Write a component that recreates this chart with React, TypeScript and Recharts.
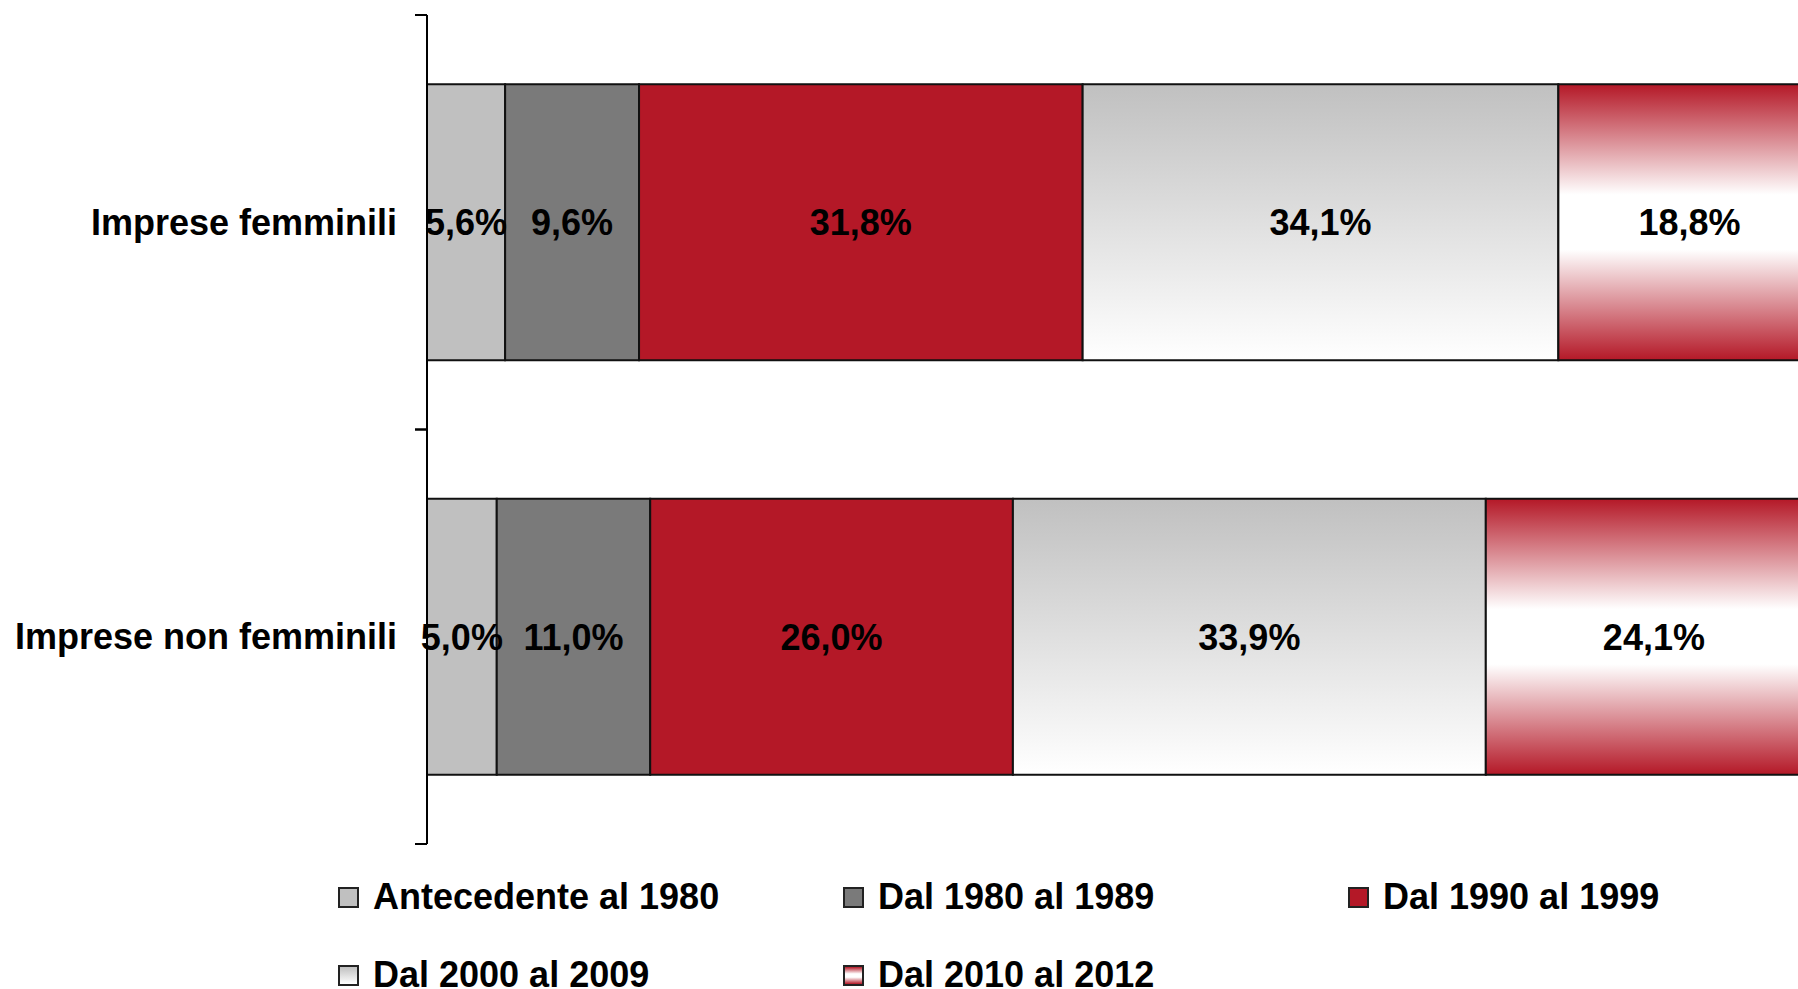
import React from 'react';
import { BarChart, Bar, XAxis, YAxis, Legend, LabelList } from 'recharts';

// values in percent
const categories = ['Imprese femminili', 'Imprese non femminili'];
const antecedente1980 = [5.6, 5.0];
const dal1980al1989 = [9.6, 11.0];
const dal1990al1999 = [31.8, 26.0];
const dal2000al2009 = [34.1, 33.9];
const dal2010al2012 = [18.8, 24.1];

const seriesNames = [
  'Antecedente al 1980',
  'Dal 1980 al 1989',
  'Dal 1990 al 1999',
  'Dal 2000 al 2009',
  'Dal 2010 al 2012',
];

const RED = '#B41827';
const FONT = '"Liberation Sans", Arial, Helvetica, sans-serif';

const series = [
  { key: 's0', values: antecedente1980, fill: '#C0C0C0', swatch: '#C0C0C0' },
  { key: 's1', values: dal1980al1989, fill: '#7A7A7A', swatch: '#7A7A7A' },
  { key: 's2', values: dal1990al1999, fill: RED, swatch: RED },
  { key: 's3', values: dal2000al2009, fill: 'url(#grad2000)', swatch: 'linear-gradient(#C0C0C0, #FFFFFF)' },
  {
    key: 's4',
    values: dal2010al2012,
    fill: 'url(#grad2010)',
    swatch: `linear-gradient(${RED}, #FFFFFF 40%, #FFFFFF 60%, ${RED})`,
  },
];

const data = categories.map((name, i) => {
  const row: Record<string, string | number> = { name };
  series.forEach((s) => {
    row[s.key] = s.values[i];
  });
  return row;
});

const fmt = (v: any) => `${Number(v).toFixed(1).replace('.', ',')}%`;

const CategoryTick = (props: any) => {
  const { x, y, payload } = props;
  const half = payload && payload.offset ? payload.offset : 207;
  return (
    <g>
      <line x1={x - 12} x2={x} y1={y - half} y2={y - half} stroke="#000" strokeWidth={2} />
      <line x1={x - 12} x2={x} y1={y + half} y2={y + half} stroke="#000" strokeWidth={2} />
      <text
        x={x - 30}
        y={y}
        textAnchor="end"
        dominantBaseline="central"
        fill="#000"
        fontSize={36}
        fontWeight="bold"
        fontFamily={FONT}
      >
        {payload.value}
      </text>
    </g>
  );
};

const LegendContent = () => (
  <div
    style={{
      height: 120,
      paddingLeft: 338,
      display: 'grid',
      gridTemplateColumns: '505px 505px 505px',
      gridAutoRows: '78px',
      fontFamily: FONT,
      fontWeight: 'bold',
      fontSize: 36,
      color: '#000',
    }}
  >
    {series.map((s, i) => (
      <div key={s.key} style={{ display: 'flex', alignItems: 'center', whiteSpace: 'nowrap' }}>
        <span
          style={{
            display: 'inline-block',
            width: 17,
            height: 17,
            border: '2px solid #222',
            background: s.swatch,
            marginRight: 14,
          }}
        />
        {seriesNames[i]}
      </div>
    ))}
  </div>
);

export default function App() {
  return (
    <div
      style={{
        position: 'fixed',
        left: 0,
        top: 0,
        width: 1798,
        height: 989,
        overflow: 'hidden',
        background: '#fff',
      }}
    >
      <BarChart
        width={1822}
        height={989}
        data={data}
        layout="vertical"
        margin={{ top: 15, right: 0, bottom: 25, left: 0 }}
        barCategoryGap="16.7%"
      >
        <defs>
          <linearGradient id="grad2000" x1="0" y1="0" x2="0" y2="1">
            <stop offset="0%" stopColor="#C0C0C0" />
            <stop offset="100%" stopColor="#FFFFFF" />
          </linearGradient>
          <linearGradient id="grad2010" x1="0" y1="0" x2="0" y2="1">
            <stop offset="0%" stopColor={RED} />
            <stop offset="40%" stopColor="#FFFFFF" />
            <stop offset="60%" stopColor="#FFFFFF" />
            <stop offset="100%" stopColor={RED} />
          </linearGradient>
        </defs>
        <XAxis type="number" domain={[0, 100]} hide />
        <YAxis
          type="category"
          dataKey="name"
          width={427}
          axisLine={{ stroke: '#000', strokeWidth: 2 }}
          tickLine={false}
          tickSize={0}
          tickMargin={0}
          tick={<CategoryTick />}
          interval={0}
        />
        <Legend
          verticalAlign="bottom"
          content={<LegendContent />}
          wrapperStyle={{ left: 0, top: 858, width: 1798 }}
        />
        {series.map((s, i) => (
          <Bar
            key={s.key}
            dataKey={s.key}
            name={seriesNames[i]}
            stackId="a"
            fill={s.fill}
            stroke="#111"
            strokeWidth={2}
            isAnimationActive={false}
          >
            <LabelList
              dataKey={s.key}
              position="center"
              formatter={fmt}
              fill="#000"
              fontSize={36}
              fontWeight="bold"
              fontFamily={FONT}
            />
          </Bar>
        ))}
      </BarChart>
    </div>
  );
}
